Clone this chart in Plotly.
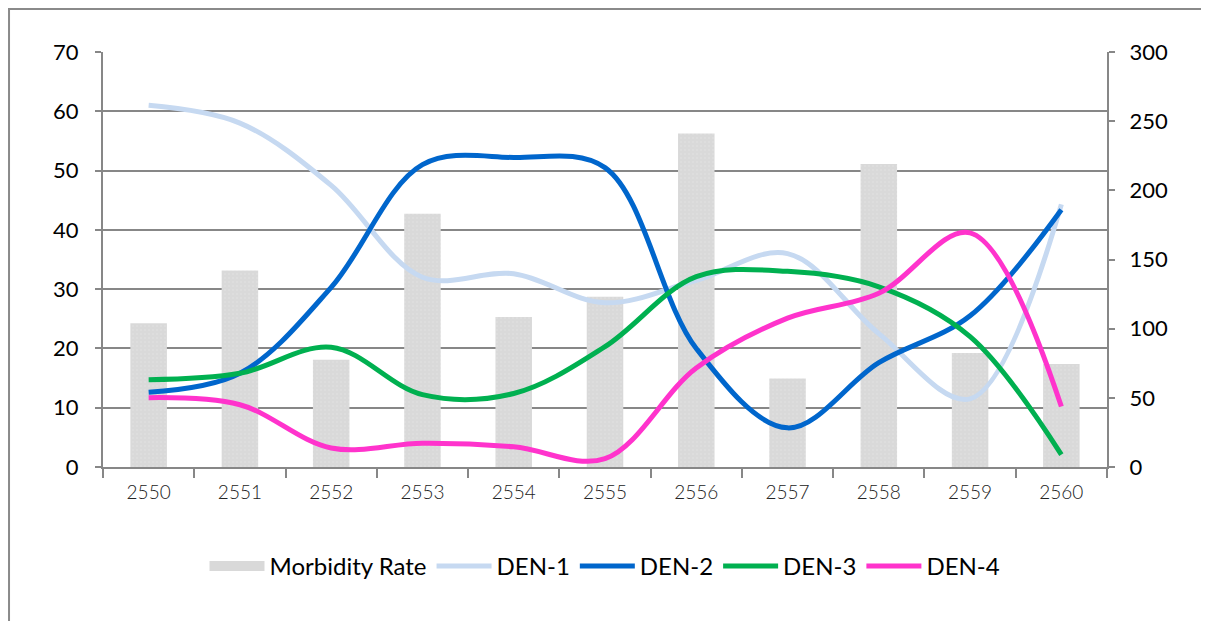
import plotly.graph_objects as go

years = ["2550", "2551", "2552", "2553", "2554", "2555", "2556", "2557", "2558", "2559", "2560"]
morbidity = [104, 142, 77.5, 183, 108.5, 123, 241, 64, 219, 82.5, 74.5]
den1 = [61, 58, 47.5, 32, 32.6, 27.7, 31.5, 36, 22.5, 11.5, 44.3]
den2 = [12.6, 15.8, 30.3, 51, 52.2, 50.5, 20, 6.6, 17.6, 25.5, 43.4]
den3 = [14.7, 15.8, 20.2, 12.2, 12.4, 20.3, 32.1, 33, 30.4, 22, 2.1]
den4 = [11.7, 10.5, 3.2, 4.0, 3.4, 1.4, 16.7, 25.1, 29.3, 39.5, 10.2]

FONT = "Lato"
GRAY = "#878787"

fig = go.Figure()
fig.add_trace(go.Bar(
    x=years, y=morbidity, name="Morbidity Rate", yaxis="y", showlegend=False,
    legendgroup="mr",
    marker=dict(color="#d9d9d9", line=dict(width=0),
                pattern=dict(shape=".", fgcolor="#e6e6e6", bgcolor="#d9d9d9", size=4, solidity=0.2)),
))
# legend swatch for the bars (wide grey block like the original)
fig.add_trace(go.Scatter(
    x=[None], y=[None], name="Morbidity Rate", yaxis="y", mode="lines", legendgroup="mr",
    line=dict(color="#d9d9d9", width=16),
))
for name, vals, col in [("DEN-1", den1, "#c6d9f1"), ("DEN-2", den2, "#0066cc"),
                        ("DEN-3", den3, "#00b050"), ("DEN-4", den4, "#ff33cc")]:
    fig.add_trace(go.Scatter(
        x=years, y=vals, name=name, yaxis="y2", mode="lines",
        line=dict(color=col, width=5, shape="spline", smoothing=1.0),
    ))

fig.update_layout(
    width=1201, height=613,
    margin=dict(l=95, r=102, t=44, b=154, autoexpand=False),
    paper_bgcolor="white", plot_bgcolor="white",
    bargap=0.6,
    showlegend=True,
    legend=dict(orientation="h", x=0.5, xanchor="center", y=-0.185, yanchor="top",
                font=dict(family=FONT, size=24, color="#000000"),
                itemwidth=55, tracegroupgap=0),
    xaxis=dict(type="category", showline=True, linecolor=GRAY, linewidth=2,
               ticks="outside", tickson="boundaries", ticklen=9, tickwidth=2, tickcolor=GRAY,
               showgrid=False, mirror=False, automargin=False,
               tickfont=dict(family=FONT, size=19, color="#222222", weight=300),
               ticklabelstandoff=7),
    yaxis=dict(side="right", range=[0, 300], dtick=50, showgrid=False, zeroline=False,
               showline=True, linecolor=GRAY, linewidth=2, automargin=False,
               ticks="outside", ticklen=6, tickwidth=1.5, tickcolor=GRAY,
               tickfont=dict(family=FONT, size=22, color="#000000"),
               ticklabelstandoff=10),
    yaxis2=dict(overlaying="y", side="left", range=[0, 70], dtick=10, showgrid=True,
                gridcolor=GRAY, gridwidth=2, zeroline=False, automargin=False,
                showline=True, linecolor=GRAY, linewidth=2,
                ticks="outside", ticklen=6, tickwidth=1.5, tickcolor=GRAY,
                tickfont=dict(family=FONT, size=22, color="#000000"),
                ticklabelstandoff=12),
    shapes=[dict(type="rect", xref="paper", yref="paper", x0=-0.0936, x1=1.0986,
                 y0=-0.4, y1=1.1036, line=dict(color="#8a8a8a", width=2), layer="below")],
)

fig.write_html("out.html")
